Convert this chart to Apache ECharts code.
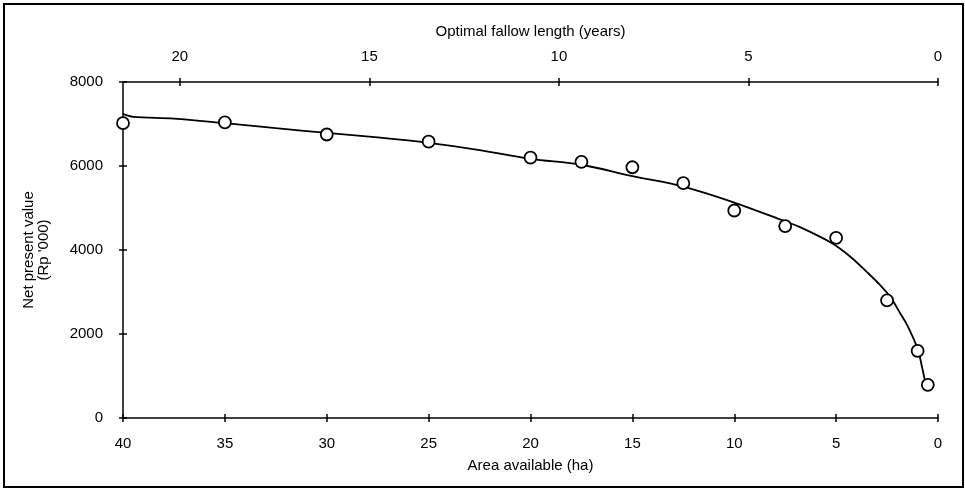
<!DOCTYPE html>
<html>
<head>
<meta charset="utf-8">
<script src="https://cdn.jsdelivr.net/npm/echarts@6/dist/echarts.min.js"></script>
<style>
  html, body { margin: 0; padding: 0; background: #fff; }
  #chart { width: 965px; height: 490px; }
</style>
</head>
<body>
<div id="chart"></div>
<script>
// observed points: area available (ha) and net present value (Rp '000)
var pointArea = [40, 35, 30, 25, 20, 17.5, 15, 12.5, 10, 7.5, 5, 2.5, 1.0, 0.5];
var pointValue = [7020, 7040, 6750, 6580, 6200, 6100, 5970, 5590, 4940, 4570, 4290, 2800, 1600, 790];

// fitted curve
var curveArea = [40, 39.5, 37.5, 35, 32.5, 30, 27.5, 25, 22.5, 20, 17.5, 15, 12.5, 10, 7.5, 6.8, 5.2, 4.3, 3.5, 2.85, 2.35, 1.85, 1.5, 1.0, 0.8, 0.55];
var curveValue = [7240, 7170, 7130, 7020, 6900, 6790, 6680, 6550, 6380, 6170, 6030, 5760, 5510, 5130, 4680, 4550, 4160, 3840, 3480, 3170, 2890, 2490, 2200, 1650, 1250, 670];

var fallowTicks = [0, 5, 10, 15, 20];

var font = 'Liberation Sans, Arial, sans-serif';

var pairs = function(xs, ys) {
	var out = [];
	for (var i = 0; i < xs.length; i++) {
		out.push([xs[i], ys[i]]);
	}
	return out;
};

var getOption = function() {
	var tickLine = { color: '#000', width: 1.5 };
	var option = {
		backgroundColor: '#fff',
		animation: false,
		textStyle: { fontFamily: font },
		grid: {
			left: 123,
			right: 27,
			top: 82,
			bottom: 72
		},
		graphic: [{
			type: 'rect',
			shape: { x: 4, y: 4, width: 959, height: 483 },
			style: { fill: 'none', stroke: '#000', lineWidth: 2 }
		}],
		xAxis: [{
			type: 'value',
			position: 'bottom',
			min: 0,
			max: 40,
			interval: 5,
			inverse: true,
			name: 'Area available (ha)',
			nameLocation: 'middle',
			nameGap: 40,
			nameTextStyle: { fontSize: 15, color: '#000', fontFamily: font },
			axisLine: { show: true, onZero: false, lineStyle: { color: '#000', width: 1.5 } },
			axisTick: { show: true, length: 4, lineStyle: tickLine },
			axisLabel: { margin: 18, fontSize: 15, color: '#000', fontFamily: font },
			splitLine: { show: false }
		}, {
			type: 'value',
			position: 'top',
			min: 0,
			max: 21.5,
			inverse: true,
			name: 'Optimal fallow length (years)',
			nameLocation: 'middle',
			nameGap: 43,
			nameTextStyle: { fontSize: 15, color: '#000', fontFamily: font },
			axisLine: { show: true, onZero: false, lineStyle: { color: '#000', width: 1.5 } },
			axisTick: { show: true, length: 4, customValues: fallowTicks, lineStyle: tickLine },
			axisLabel: { margin: 18, fontSize: 15, color: '#000', fontFamily: font, customValues: fallowTicks },
			splitLine: { show: false }
		}, {
			// inner half of the crossing ticks, bottom
			type: 'value',
			position: 'bottom',
			min: 0,
			max: 40,
			interval: 5,
			inverse: true,
			axisLine: { show: false, onZero: false },
			axisTick: { show: true, inside: true, length: 4, lineStyle: tickLine },
			axisLabel: { show: false },
			splitLine: { show: false }
		}, {
			// inner half of the crossing ticks, top
			type: 'value',
			position: 'top',
			min: 0,
			max: 21.5,
			inverse: true,
			axisLine: { show: false, onZero: false },
			axisTick: { show: true, inside: true, length: 4, customValues: fallowTicks, lineStyle: tickLine },
			axisLabel: { show: false },
			splitLine: { show: false }
		}],
		yAxis: [{
			type: 'value',
			position: 'left',
			min: 0,
			max: 8000,
			interval: 2000,
			name: 'Net present value\n(Rp \'000)',
			nameLocation: 'middle',
			nameGap: 72,
			nameTextStyle: { fontSize: 15, color: '#000', fontFamily: font, lineHeight: 15, align: 'center' },
			axisLine: { show: true, onZero: false, lineStyle: { color: '#000', width: 1.5 } },
			axisTick: { show: true, length: 4, lineStyle: tickLine },
			axisLabel: {
				margin: 20, fontSize: 15, color: '#000', fontFamily: font,
				formatter: function(v) { return String(v); }
			},
			splitLine: { show: false }
		}, {
			type: 'value',
			position: 'left',
			min: 0,
			max: 8000,
			interval: 2000,
			axisLine: { show: false, onZero: false },
			axisTick: { show: true, inside: true, length: 4, lineStyle: tickLine },
			axisLabel: { show: false },
			splitLine: { show: false }
		}],
		series: [{
			name: 'curve',
			type: 'line',
			xAxisIndex: 0,
			yAxisIndex: 0,
			data: pairs(curveArea, curveValue),
			smooth: 0.35,
			showSymbol: false,
			lineStyle: { color: '#000', width: 1.8 },
			z: 2
		}, {
			name: 'points',
			type: 'scatter',
			xAxisIndex: 0,
			yAxisIndex: 0,
			data: pairs(pointArea, pointValue),
			symbol: 'circle',
			symbolSize: 12,
			itemStyle: { color: '#fff', borderColor: '#000', borderWidth: 1.8, opacity: 1 },
			z: 3
		}]
	};
	return option;
};

var chart = echarts.init(document.getElementById('chart'));
chart.setOption(getOption());
</script>
</body>
</html>
